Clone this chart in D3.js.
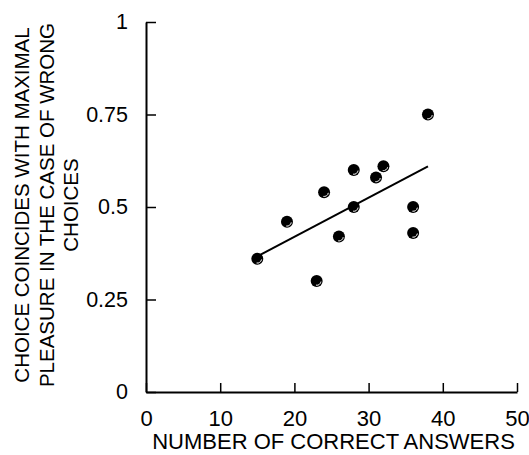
<!DOCTYPE html>
<html>
  <head>
    <meta charset="utf-8" />
    <style>
      body { margin: 0; background: #fff; }
      svg { font-family: "Liberation Sans", Arial, sans-serif; }
    </style>
  </head>
  <body>
    <svg id="chart"></svg>
    <script src="https://d3js.org/d3.v7.min.js"></script>
    <script>
      const correctAnswers = [15, 19, 23, 24, 26, 28, 28, 31, 32, 36, 36, 38];
      const coincidence = [0.36, 0.46, 0.3, 0.54, 0.42, 0.6, 0.5, 0.58, 0.61, 0.5, 0.43, 0.75];
      const xTicks = [0, 10, 20, 30, 40, 50];
      const yTicks = [0, 0.25, 0.5, 0.75, 1];
      const yTickLabels = ["0", "0.25", "0.5", "0.75", "1"];
      const yTitle = [
        "CHOICE COINCIDES WITH MAXIMAL",
        "PLEASURE IN THE CASE OF WRONG",
        "CHOICES",
      ];
      const xTitle = "NUMBER OF CORRECT ANSWERS";

      const width = 529;
      const height = 455;
      const marginTop = 22;
      const marginRight = 12;
      const marginBottom = 63;
      const marginLeft = 146;

      const points = correctAnswers.map((x, i) => ({ x, y: coincidence[i] }));

      // least squares fit for the trend line
      const mx = d3.mean(points, (d) => d.x);
      const my = d3.mean(points, (d) => d.y);
      const slope =
        d3.sum(points, (d) => (d.x - mx) * (d.y - my)) /
        d3.sum(points, (d) => (d.x - mx) ** 2);
      const fit = (x) => my + slope * (x - mx);
      const fitLine = d3.extent(correctAnswers).map((x) => ({ x, y: fit(x) }));

      const x = d3.scaleLinear().domain([0, 50]).range([marginLeft, width - marginRight]);
      const y = d3.scaleLinear().domain([0, 1]).range([height - marginBottom, marginTop]);

      const svg = d3
        .select("#chart")
        .attr("width", width)
        .attr("height", height)
        .attr("viewBox", [0, 0, width, height]);

      // x-axis, ticks pointing inward
      svg
        .append("g")
        .attr("transform", `translate(0,${height - marginBottom})`)
        .call(d3.axisBottom(x).tickValues(xTicks).tickSizeInner(-9).tickSizeOuter(0).tickPadding(18))
        .call((g) => g.select(".domain").attr("stroke-width", 2))
        .call((g) => g.selectAll(".tick line").attr("stroke-width", 1.5))
        .call((g) => g.selectAll(".tick text").attr("font-size", 22).attr("dy", "0.71em"));

      // y-axis, ticks pointing inward
      svg
        .append("g")
        .attr("transform", `translate(${marginLeft},0)`)
        .call(
          d3
            .axisLeft(y)
            .tickValues(yTicks)
            .tickFormat((d, i) => yTickLabels[i])
            .tickSizeInner(-10)
            .tickSizeOuter(0)
            .tickPadding(18)
        )
        .call((g) => g.select(".domain").attr("stroke-width", 2))
        .call((g) => g.selectAll(".tick line").attr("stroke-width", 1.5))
        .call((g) => g.selectAll(".tick text").attr("font-size", 21.5));

      svg
        .append("text")
        .attr("x", (marginLeft + width - marginRight) / 2 + 2)
        .attr("y", height - 6)
        .attr("text-anchor", "middle")
        .attr("font-size", 22)
        .text(xTitle);

      svg
        .append("g")
        .attr("transform", `translate(29,${(marginTop + height - marginBottom) / 2 - 2}) rotate(-90)`)
        .selectAll("text")
        .data(yTitle)
        .join("text")
        .attr("x", 0)
        .attr("y", (d, i) => i * 24.5)
        .attr("text-anchor", "middle")
        .attr("font-size", 20.5)
        .text((d) => d);

      svg
        .append("path")
        .datum(fitLine)
        .attr("fill", "none")
        .attr("stroke", "#000")
        .attr("stroke-width", 2)
        .attr(
          "d",
          d3
            .line()
            .x((d) => x(d.x))
            .y((d) => y(d.y))
        );

      const dots = svg
        .append("g")
        .selectAll("g")
        .data(points)
        .join("g")
        .attr("transform", (d) => `translate(${x(d.x)},${y(d.y)})`);

      dots.append("circle").attr("r", 6).attr("fill", "#000");
      dots
        .append("path")
        .attr("fill", "none")
        .attr("stroke", "#bbb")
        .attr("stroke-width", 0.9)
        .attr("d", d3.arc()({ innerRadius: 4.3, outerRadius: 4.3, startAngle: Math.PI * 0.55, endAngle: Math.PI * 1.05 }));
    </script>
  </body>
</html>
